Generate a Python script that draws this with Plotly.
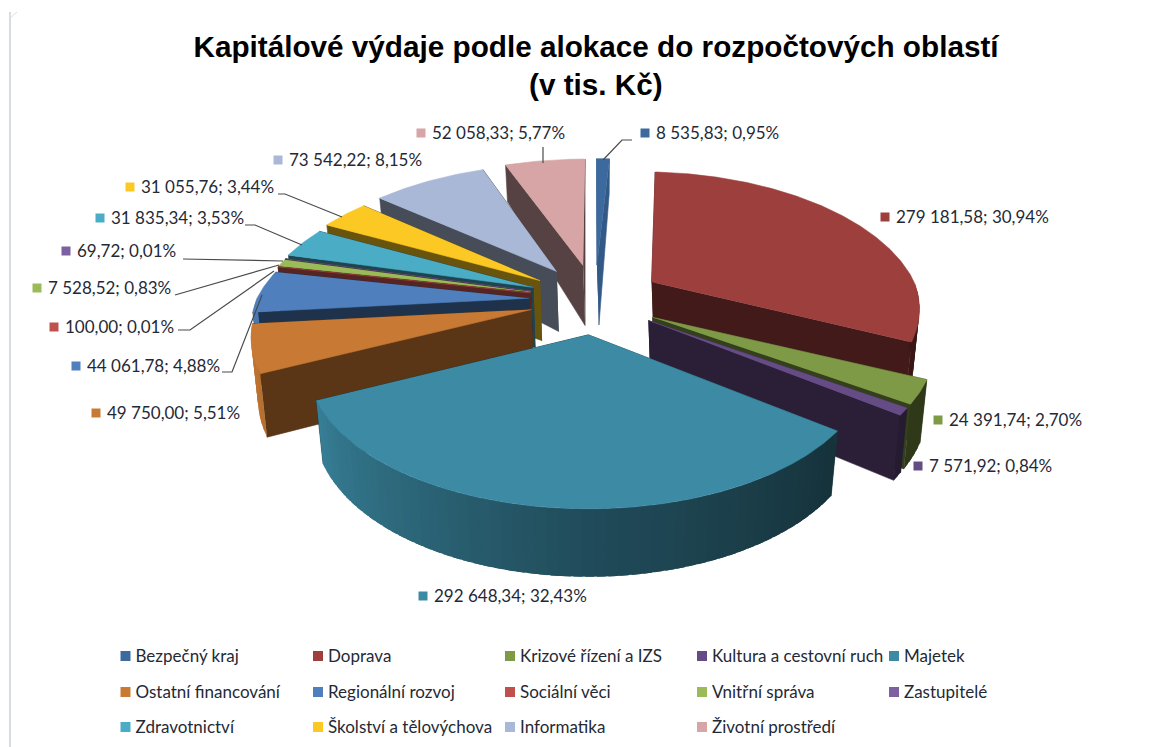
import numpy as np
import plotly.graph_objects as go

# ---------- data ----------
categories = ["Bezpečný kraj", "Doprava", "Krizové řízení a IZS", "Kultura a cestovní ruch", "Majetek",
              "Ostatní financování", "Regionální rozvoj", "Sociální věci", "Vnitřní správa", "Zastupitelé",
              "Zdravotnictví", "Školství a tělovýchova", "Informatika", "Životní prostředí"]
values = [8535.83, 279181.58, 24391.74, 7571.92, 292648.34, 49750.00, 44061.78, 100.00,
          7528.52, 69.72, 31835.34, 31055.76, 73542.22, 52058.33]
percents = [0.95, 30.94, 2.70, 0.84, 32.43, 5.51, 4.88, 0.01, 0.83, 0.01, 3.53, 3.44, 8.15, 5.77]
colors = ["#3D6A9E", "#9C3F3D", "#7F9A46", "#664C85", "#3C8AA4", "#C87A35", "#4F7FBC", "#C0504D",
          "#9BBB59", "#7D60A0", "#4BACC6", "#FCC823", "#A9B8D6", "#D7A5A5"]
wall_factor = [0.85, 0.42, 0.41, 0.42, 0.40, 0.45, 0.40, 0.45, 0.42, 0.42, 0.40, 0.42, 0.42, 0.40]
title_lines = ["Kapitálové výdaje podle alokace do rozpočtových oblastí", "(v tis. Kč)"]

# ---------- layout constants (pixel space of the page) ----------
W, H = 1168, 747
CX, CY = 595, 300        # pie centre
EX, EY = 66, 35          # explosion offset
KX, KY = 266.6, 134      # radii
P = 0.20                 # perspective strength
P_TIP = 0.03             # perspective shift due to explosion
TEXT = "#1F2A36"
LABEL_FONT = "Lato"
LABEL_SIZE = 17
TEXT_DY = 1.5

# marker centre (x, y) of each data label
label_pos = [(645, 133), (885, 217), (938, 420), (918, 466), (423, 596), (96, 413), (76, 366),
             (54, 327), (37, 288), (66, 251), (100, 218), (130, 187), (278, 160), (421, 133)]
# leader lines by category index
leaders = {0: [(603, 160), (622, 140), (632, 140)],
           6: [(222, 372), (232, 372), (262, 295)],
           7: [(178, 330), (190, 330), (274, 271)],
           8: [(175, 295), (279, 265)],
           9: [(183, 259), (283, 261)],
           10: [(245, 225), (255, 225), (302, 245)],
           11: [(278, 194), (285, 194), (342, 217)],
           13: [(543, 147), (543, 163)]}

# ---------- geometry ----------
def hex_rgb(c):
    return np.array([int(c[i:i + 2], 16) for i in (1, 3, 5)], dtype=float)

def shade(c, f):
    r = np.clip(hex_rgb(c) * f, 0, 255).astype(int)
    return f"rgb({r[0]},{r[1]},{r[2]})"

def fmt_value(v):
    s = f"{v:,.2f}"
    return s.replace(",", " ").replace(".", ",")

def depth(Y):
    Y = np.asarray(Y, dtype=float)
    return np.where(Y >= 0, 60 + 8 * Y, 60 + 25 * Y)

def outer(a, tip, ytip, xtip):
    """Top and bottom outline points for angles a (radians, clockwise from the back)."""
    X, Y = np.sin(a), -np.cos(a)
    den = 1 - P * Y - P_TIP * ytip
    boost = 1.022 if (xtip < 0 and ytip < 0.9) else 1.0
    rx = KX * boost * X / den
    # the explosion offset shrinks towards the back of the plate
    rx = rx + xtip * EX * (1 / (1 - P * np.minimum(Y, 0)) - 1)
    if xtip > 0.3 and ytip > 0.3:
        rx = rx + 6 * np.clip(Y / 0.4, 0, 1)
    ry = KY * Y / (den + 0.06 * max(0.0, -ytip - 0.5))
    d = depth(Y)
    return tip[0] + rx, tip[1] + ry, tip[0] + rx * 0.975, tip[1] + ry + d

def arc_shade(deg):
    return np.interp(deg, [100, 130, 180, 244, 264, 360], [0.38, 0.37, 0.55, 0.92, 0.95, 0.9])

fig = go.Figure()

def poly(xs, ys, color, lw=0.6):
    fig.add_trace(go.Scatter(x=list(xs), y=list(ys), mode="lines", fill="toself", fillcolor=color,
                             line=dict(color=color, width=lw), hoverinfo="skip", showlegend=False))

total = sum(values)
edges = np.concatenate([[0], np.cumsum(values)]) / total * 360.0
mids = (edges[:-1] + edges[1:]) / 2
order = sorted(range(len(values)), key=lambda i: -np.cos(np.radians(mids[i])))

for i in order:
    a0, a1 = edges[i], edges[i + 1]
    m = np.radians(mids[i])
    ytip, xtip = -np.cos(m), np.sin(m)
    tip = (CX + EX * xtip, CY + EY * ytip)
    tip_bot = (tip[0] + 2, tip[1] + 60)
    col = colors[i]
    wall = shade(col, wall_factor[i])
    # radial walls
    for a in (a0, a1):
        tx, ty, bx, by = outer(np.radians(np.array([a])), tip, ytip, xtip)
        poly([tip[0], tx[0], bx[0], tip_bot[0]], [tip[1], ty[0], by[0], tip_bot[1]], wall)
    # outer wall, shaded strip by strip; each strip overlaps the next so no seam shows
    n = max(1, int(np.ceil((a1 - a0) / 2)))
    steps = np.linspace(a0, a1, n + 1)
    for s0, s1 in zip(steps[:-1], steps[1:]):
        if 91 < (s0 + s1) / 2 < 269:
            s_end = min(s1 + 1.5, a1)
            ang = np.radians(np.linspace(s0, s_end, 4))
            tx, ty, bx, by = outer(ang, tip, ytip, xtip)
            poly(np.r_[tx, bx[::-1]], np.r_[ty, by[::-1]],
                 shade(col, float(arc_shade((s0 + s1) / 2))), lw=0)
    # top face
    arc = np.radians(np.linspace(a0, a1, max(2, int((a1 - a0) * 1.5) + 2)))
    tx, ty, _, _ = outer(arc, tip, ytip, xtip)
    poly(np.r_[tip[0], tx], np.r_[tip[1], ty], col)

# leader lines
for pts in leaders.values():
    fig.add_trace(go.Scatter(x=[p[0] for p in pts], y=[p[1] for p in pts], mode="lines",
                             line=dict(color="#4A4A4A", width=1.2), hoverinfo="skip", showlegend=False))

def keyed_text(x, y, txt, color, msize, dx):
    fig.add_trace(go.Scatter(x=[x], y=[y], mode="markers", marker=dict(symbol="square", size=msize, color=color),
                             hoverinfo="skip", showlegend=False))
    fig.add_trace(go.Scatter(x=[x + dx], y=[y + TEXT_DY], mode="text", text=[txt], textposition="middle right",
                             textfont=dict(family=LABEL_FONT, size=LABEL_SIZE, color=TEXT),
                             hoverinfo="skip", showlegend=False))

# data labels: marker plus text
for i, (x, y) in enumerate(label_pos):
    txt = f"{fmt_value(values[i])}; {percents[i]:.2f}%".replace(".", ",")
    keyed_text(x, y, txt, colors[i], 9, 11)

# legend
LEG_X = [125.5, 318, 510, 702, 894]
LEG_Y = [656, 692, 727]
for i, name in enumerate(categories):
    keyed_text(LEG_X[i % 5], LEG_Y[i // 5], name, colors[i], 10, 10)

fig.update_layout(
    width=W, height=H, margin=dict(l=0, r=0, t=0, b=0), paper_bgcolor="white", plot_bgcolor="white",
    showlegend=False,
    title=dict(text=title_lines[0], x=596 / W, xanchor="center", y=1 - 47 / H, yanchor="middle",
               font=dict(family="Liberation Sans", size=29.7, color="black", weight="bold")),
    xaxis=dict(range=[0, W], visible=False, fixedrange=True),
    yaxis=dict(range=[H, 0], visible=False, fixedrange=True),
    annotations=[dict(text=title_lines[1], x=596, y=84, xref="x", yref="y", showarrow=False,
                      font=dict(family="Liberation Sans", size=29.7, color="black", weight="bold"))],
    shapes=[dict(type="line", x0=10, x1=10, y0=12, y1=H, line=dict(color="#C8D2D6", width=1.5)),
            dict(type="line", x0=10, x1=17, y0=18, y1=12, line=dict(color="#D5E2E6", width=1))],
)
fig.write_html("out.html", config=dict(displayModeBar=False), post_script="document.body.style.margin='0';")
